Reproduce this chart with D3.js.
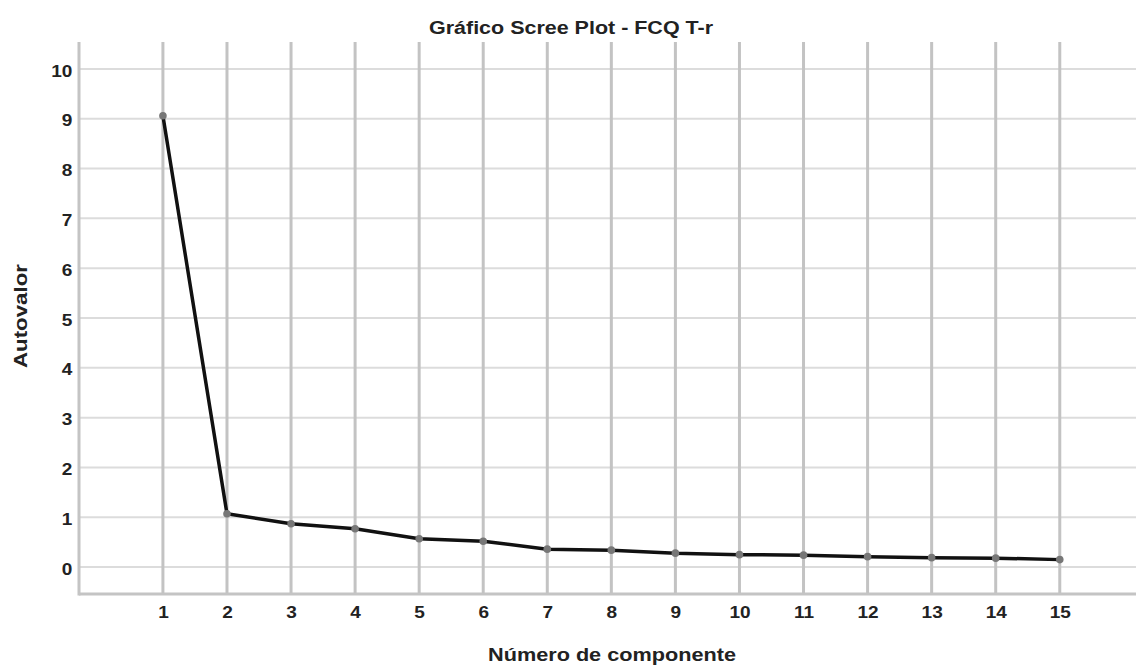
<!DOCTYPE html>
<html>
<head>
<meta charset="utf-8">
<script src="https://cdn.jsdelivr.net/npm/d3@7"></script>
<style>
  body { margin: 0; background: #fff; }
  text { font-family: "Liberation Sans", Arial, sans-serif; font-weight: bold; fill: #222; }
</style>
</head>
<body>
<div id="chart"></div>
<script>
// the data
var components = [1, 2, 3, 4, 5, 6, 7, 8, 9, 10, 11, 12, 13, 14, 15]
var eigenvalues = [9.06, 1.07, 0.87, 0.77, 0.57, 0.52, 0.36, 0.34, 0.28, 0.25, 0.24, 0.21, 0.19, 0.18, 0.15]
var yTicks = [0, 1, 2, 3, 4, 5, 6, 7, 8, 9, 10]

var W = 1136, H = 666
var margin = { top: 42, right: 0, bottom: 72, left: 79 }
var width = W - margin.left - margin.right
var height = H - margin.top - margin.bottom

var x = d3.scaleLinear().domain([-0.31, 16.19]).range([0, width])
var y = d3.scaleLinear().domain([-0.54, 10.54]).range([height, 0])

var svg = d3.select('#chart').append('svg')
    .attr('width', W)
    .attr('height', H)
var g = svg.append('g')
    .attr('transform', 'translate(' + margin.left + ',' + margin.top + ')')

// horizontal grid
g.append('g')
    .selectAll('line')
    .data(yTicks)
    .join('line')
    .attr('x1', 0).attr('x2', width)
    .attr('y1', d => y(d)).attr('y2', d => y(d))
    .attr('stroke', '#dcdcdc')
    .attr('stroke-width', 2)

// vertical grid
g.append('g')
    .selectAll('line')
    .data(components)
    .join('line')
    .attr('x1', d => x(d)).attr('x2', d => x(d))
    .attr('y1', 0).attr('y2', height)
    .attr('stroke', '#c3c3c3')
    .attr('stroke-width', 3)

// axes
var yAxis = g.append('g')
    .call(d3.axisLeft(y).tickValues(yTicks).tickSize(0).tickPadding(6).tickFormat(d3.format('d')))
var xAxis = g.append('g')
    .attr('transform', 'translate(0,' + height + ')')
    .call(d3.axisBottom(x).tickValues(components).tickSize(0).tickPadding(12).tickFormat(d3.format('d')))
;[yAxis, xAxis].forEach(a => {
    a.select('.domain').attr('stroke', '#c4c4c4').attr('stroke-width', 3)
    a.selectAll('text')
        .style('font-size', '17px')
        .attr('fill', '#222')
        .attr('transform', 'scale(1.12,1)')
})
yAxis.selectAll('text').attr('dy', '0.42em')
xAxis.select('.domain').attr('d', 'M0,0H' + width)
yAxis.select('.domain').attr('d', 'M0,' + (height + 1.5) + 'V0')

// the line
var valueline = d3.line()
    .x((d, i) => x(components[i]))
    .y(d => y(d))
g.append('path')
    .datum(eigenvalues)
    .attr('fill', 'none')
    .attr('stroke', '#111')
    .attr('stroke-width', 3.5)
    .attr('stroke-linejoin', 'round')
    .attr('d', valueline)

g.append('g')
    .selectAll('circle')
    .data(eigenvalues)
    .join('circle')
    .attr('cx', (d, i) => x(components[i]))
    .attr('cy', d => y(d))
    .attr('r', 3.8)
    .attr('fill', '#777')

// titles
svg.append('text')
    .attr('x', 571).attr('y', 34)
    .attr('text-anchor', 'middle')
    .style('font-size', '18px')
    .attr('textLength', 284)
    .attr('lengthAdjust', 'spacingAndGlyphs')
    .text('Gráfico Scree Plot - FCQ T-r')
svg.append('text')
    .attr('x', 612).attr('y', 661)
    .attr('text-anchor', 'middle')
    .style('font-size', '18px')
    .attr('textLength', 248)
    .attr('lengthAdjust', 'spacingAndGlyphs')
    .text('Número de componente')
svg.append('text')
    .attr('transform', 'translate(27,' + 316 + ') rotate(-90)')
    .attr('text-anchor', 'middle')
    .style('font-size', '18px')
    .attr('textLength', 104)
    .attr('lengthAdjust', 'spacingAndGlyphs')
    .text('Autovalor')
</script>
</body>
</html>
